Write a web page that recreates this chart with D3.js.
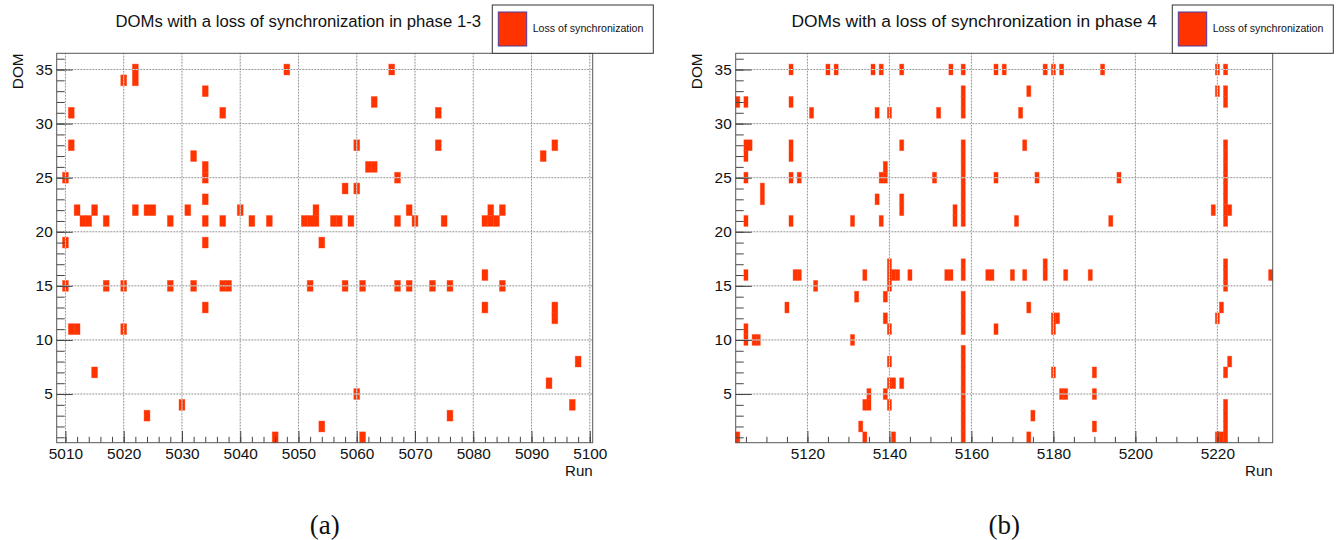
<!DOCTYPE html>
<html>
<head>
<meta charset="utf-8">
<script src="https://cdn.jsdelivr.net/npm/d3@7"></script>
<style>
body { margin: 0; background: #fff; }
text { font-family: "Liberation Sans", Arial, Helvetica, sans-serif; fill: #111; }
</style>
</head>
<body>
<script>
var phase13Cells = [
	[5010, [25, 19, 15]], [5011, [31, 28, 11]], [5012, [22, 11]], [5013, [21]], [5014, [21]],
	[5015, [22, 7]], [5017, [21, 15]], [5020, [34, 15, 11]], [5022, [35, 34, 22]],
	[5024, [22, 3]], [5025, [22]], [5028, [21, 15]], [5030, [4]], [5031, [22]], [5032, [27, 15]],
	[5034, [33, 26, 25, 23, 21, 19, 13]], [5037, [31, 21, 15]], [5038, [15]], [5040, [22]],
	[5042, [21]], [5045, [21]], [5046, [1]], [5048, [35]], [5051, [21]], [5052, [21, 15]],
	[5053, [22, 21]], [5054, [19, 2]], [5056, [21]], [5057, [21]], [5058, [24, 15]], [5059, [21]],
	[5060, [28, 24, 5]], [5061, [15, 1]], [5062, [26]], [5063, [32, 26]], [5066, [35]],
	[5067, [25, 21, 15]], [5069, [22, 15]], [5070, [21]], [5073, [15]], [5074, [31, 28]],
	[5075, [21]], [5076, [15, 3]], [5082, [21, 16, 13]], [5083, [22, 21]], [5084, [21]],
	[5085, [22, 15]], [5092, [27]], [5093, [6]], [5094, [28, 13, 12]], [5097, [4]], [5098, [8]]
];

var phase4Cells = [
	[5103, [32, 1]], [5105, [32, 28, 27, 25, 21, 16, 11, 10]], [5106, [28]], [5107, [10]], [5108, [10]],
	[5109, [24, 23]], [5115, [13]], [5116, [35, 32, 28, 27, 25, 21]], [5117, [16]], [5118, [25, 16]],
	[5121, [31]], [5122, [15]], [5125, [35]], [5127, [35]], [5131, [21, 10]], [5132, [14]], [5133, [2]],
	[5134, [16, 4, 1]], [5135, [5, 4]], [5136, [35]], [5137, [31, 23]], [5138, [35, 25, 21]],
	[5139, [26, 25, 14, 12, 5]], [5140, [31, 17, 16, 15, 11, 8, 6, 4]], [5141, [16, 6, 1]], [5142, [16]],
	[5143, [35, 28, 23, 22, 6]], [5145, [16]], [5151, [25]], [5152, [31]], [5154, [16]], [5155, [35, 16]],
	[5156, [22, 21]],
	[5158, [35, 33, 32, 31, 28, 27, 26, 25, 24, 23, 22, 21, 17, 16, 14, 13, 12, 11, 9, 8, 7, 6, 5, 4, 3, 2, 1]],
	[5164, [16]], [5165, [16]], [5166, [35, 25, 11]], [5168, [35]], [5170, [16]], [5171, [21]], [5172, [31]],
	[5173, [28, 16]], [5174, [33, 13, 1]], [5175, [3]], [5176, [25]], [5178, [35, 17, 16]],
	[5180, [35, 12, 11, 7]], [5181, [12]], [5182, [35, 5]], [5183, [16, 5]], [5189, [16]], [5190, [7, 5, 2]],
	[5192, [35]], [5194, [21]], [5196, [25]], [5219, [22]], [5220, [35, 33, 12, 1]], [5221, [13, 1]],
	[5222, [35, 33, 32, 28, 27, 26, 25, 24, 23, 22, 21, 17, 16, 15, 7, 4, 3, 2, 1]], [5223, [22, 8]],
	[5233, [16]]
];

//Tick labels
var domTicks = [5, 10, 15, 20, 25, 30, 35];
var runTicksA = [5010, 5020, 5030, 5040, 5050, 5060, 5070, 5080, 5090, 5100];
var runTicksB = [5120, 5140, 5160, 5180, 5200, 5220];

var titleA = "DOMs with a loss of synchronization in phase 1-3";
var titleB = "DOMs with a loss of synchronization in phase 4";
var legendLabel = "Loss of synchronization";

var cellColor = "#ff3300";

var svg = d3.select("body").append("svg")
	.attr("width", 1339).attr("height", 540);
svg.append("rect").attr("width", 1339).attr("height", 540).attr("fill", "#fff");

//Frame geometry, same vertical extent for both pads
var frameTop = 53.3, frameBottom = 442.7;

var panels = [
	{cells: phase13Cells, left: 56.7, right: 592.7, runRange: [5008.5, 5100.5], runTicks: runTicksA, minorStep: 2,
		title: titleA, titleX: 298.3, titleSize: 16.7, caption: "(a)"},
	{cells: phase4Cells, left: 735.7, right: 1272.7, runRange: [5102.5, 5233.5], runTicks: runTicksB, minorStep: 5,
		title: titleB, titleX: 974.2, titleSize: 17.4, caption: "(b)"}
];

var y = d3.scaleLinear().domain([0.5, 36.5]).range([frameBottom, frameTop]);

panels.forEach(function (p) {
	var x = d3.scaleLinear().domain(p.runRange).range([p.left, p.right]);
	var g = svg.append("g");

	//Flatten [run, [doms]] into one entry per cell
	var flat = p.cells.reduce(function (acc, c) {
		return acc.concat(c[1].map(function (d) { return {run: c[0], dom: d}; }));
	}, []);

	g.append("g").selectAll("rect")
		.data(flat)
		.enter()
		.append("rect")
		.attr("x", function (d) { return x(d.run - 0.5); })
		.attr("width", function (d) { return x(d.run + 0.5) - x(d.run - 0.5); })
		.attr("y", function (d) { return y(d.dom + 0.5); })
		.attr("height", function (d) { return y(d.dom - 0.5) - y(d.dom + 0.5); })
		.attr("fill", cellColor)
		.attr("stroke", cellColor).attr("stroke-opacity", 0.45).attr("stroke-width", 0.8);

	//Grid at major ticks, drawn over the cells like ROOT does
	var grid = g.append("g");
	p.runTicks.forEach(function (t) {
		grid.append("line").attr("x1", x(t)).attr("x2", x(t)).attr("y1", frameTop).attr("y2", frameBottom)
			.attr("stroke", "#e2e2e2").attr("stroke-width", 1);
		grid.append("line").attr("x1", x(t)).attr("x2", x(t)).attr("y1", frameTop).attr("y2", frameBottom)
			.attr("stroke", "#777").attr("stroke-width", 1).attr("stroke-dasharray", "1,2");
	});
	domTicks.forEach(function (t) {
		grid.append("line").attr("x1", p.left).attr("x2", p.right).attr("y1", y(t)).attr("y2", y(t))
			.attr("stroke", "#e2e2e2").attr("stroke-width", 1);
		grid.append("line").attr("x1", p.left).attr("x2", p.right).attr("y1", y(t)).attr("y2", y(t))
			.attr("stroke", "#777").attr("stroke-width", 1).attr("stroke-dasharray", "1,2");
	});

	//Axes : ticks point inside the frame
	var minorRuns = d3.range(Math.ceil(p.runRange[0] / p.minorStep) * p.minorStep, p.runRange[1], p.minorStep);
	var minorDoms = d3.range(1, 37);

	var xMinor = g.append("g").attr("transform", "translate(0," + frameBottom + ")")
		.call(d3.axisBottom(x).tickValues(minorRuns).tickSize(-5.9).tickFormat(""));
	var xMajor = g.append("g").attr("transform", "translate(0," + frameBottom + ")")
		.call(d3.axisBottom(x).tickValues(p.runTicks).tickSize(-11.7).tickPadding(5.7).tickFormat(d3.format("d")));
	var yMinor = g.append("g").attr("transform", "translate(" + p.left + ",0)")
		.call(d3.axisLeft(y).tickValues(minorDoms).tickSize(-8).tickFormat(""));
	var yMajor = g.append("g").attr("transform", "translate(" + p.left + ",0)")
		.call(d3.axisLeft(y).tickValues(domTicks).tickSize(-16).tickPadding(4));

	[xMinor, xMajor, yMinor, yMajor].forEach(function (a) {
		a.select(".domain").remove();
		a.selectAll(".tick line").attr("stroke", "#444");
	});
	xMajor.selectAll("text").attr("font-size", 15.4).attr("fill", "#111");
	yMajor.selectAll("text").attr("font-size", 15.4).attr("fill", "#111");

	//Frame
	g.append("rect").attr("x", p.left).attr("y", frameTop)
		.attr("width", p.right - p.left).attr("height", frameBottom - frameTop)
		.attr("fill", "none").attr("stroke", "#555").attr("stroke-width", 1);

	//Axis titles, right/top justified as in ROOT
	g.append("text").attr("x", p.right).attr("y", 476).attr("text-anchor", "end")
		.attr("font-size", 15.1).text("Run");
	g.append("text").attr("transform", "translate(" + (p.left - 34) + "," + frameTop + ") rotate(-90)")
		.attr("text-anchor", "end").attr("font-size", 15.4).text("DOM");

	//Title
	g.append("text").attr("x", p.titleX).attr("y", 27.3).attr("text-anchor", "middle")
		.attr("font-size", p.titleSize).text(p.title);

	//Legend box
	var lx = p.right - 100.4;
	g.append("rect").attr("x", lx).attr("y", 5).attr("width", 161).attr("height", 48.3)
		.attr("fill", "#fff").attr("stroke", "#333").attr("stroke-width", 1);
	g.append("rect").attr("x", lx + 6).attr("y", 12).attr("width", 28.4).attr("height", 34)
		.attr("fill", cellColor).attr("stroke", "#4b3c9e").attr("stroke-width", 1);
	g.append("text").attr("x", lx + 40.4).attr("y", 32.3).attr("font-size", 10.6).text(legendLabel);

	//Sub-figure caption, serif like the LaTeX document
	g.append("text").attr("x", (p.left + p.right) / 2).attr("y", 533.5).attr("text-anchor", "middle")
		.style("font-family", "'Liberation Serif', 'DejaVu Serif', serif").attr("font-size", 27)
		.text(p.caption);
});
</script>
</body>
</html>
